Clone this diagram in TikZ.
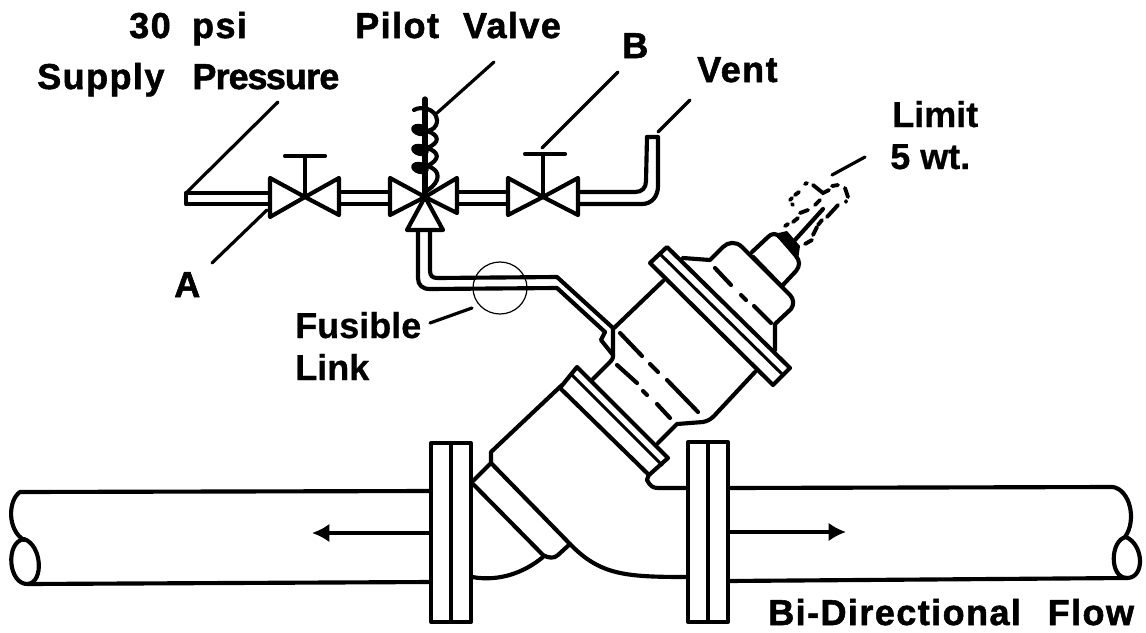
\documentclass[tikz,border=0pt]{standalone}
\usepackage{fontspec}
\setmainfont{Liberation Sans}
\newfontfamily\heavyface[LetterSpace=4,FakeBold=1.5]{Liberation Sans Bold}
\newfontfamily\midface[FakeBold=0.6]{Liberation Sans Bold}
\usetikzlibrary{arrows.meta}
\tikzset{
 ln/.style={line width=3.1pt,line join=round,line cap=round},
 thn/.style={line width=2.3pt,line join=round,line cap=round},
 valve/.style={line width=3.1pt,line join=round,fill=white},
 lead/.style={line width=2.4pt,line cap=round},
 dsh/.style={line width=2.9pt,line cap=round},
 lbl/.style={font=\heavyface\fontsize{27}{30}\selectfont,inner sep=0pt,anchor=base west},
 lbm/.style={font=\midface\fontsize{27}{30}\selectfont,inner sep=0pt,anchor=base west},
 flowtip/.style={-{Latex[length=13pt,width=14pt]}},
}
\begin{document}
\begin{tikzpicture}[x=0.75pt,y=-0.75pt]
\useasboundingbox (0,0) rectangle (1146,632);
% pipes
\draw[ln] (431,491) -- (20,492) .. controls (8,500) and (7,530) .. (24,540);
\draw[ln] (24,539) .. controls (5,542) and (8,585) .. (28,584) .. controls (44,582) and (42,545) .. (24,539);
\draw[ln] (28,584) -- (431,582);
\draw[ln] (728,488) -- (1113,487) .. controls (1130,490) and (1137,520) .. (1125,537);
\draw[ln] (1126,537) .. controls (1110,540) and (1109,578) .. (1127,578) .. controls (1145,578) and (1144,545) .. (1126,537);
\draw[ln] (728,581) -- (1127,578);
% flanges
\draw[ln] (431,443) rectangle (471,622) (451,443) -- (451,622);
\draw[ln] (688,442) rectangle (728,622) (708,442) -- (708,622);
% body
\draw[ln] (472,482) -- (491,463) -- (491,452) -- (562,385);
\draw[ln] (491,463) -- (570,544) .. controls (600,575) and (625,577) .. (687,577);
\draw[ln] (474,485) -- (543,555) (543,555) .. controls (548,558) and (554,559) .. (558,555) -- (570,544);
\draw[ln] (472,577) .. controls (500,582) and (525,572) .. (543,557);
\draw[ln] (649,474) -- (647,480) .. controls (650,486) and (653,488) .. (658,488) -- (688,488);
% lower flange
\draw[ln] (577,367) -- (668,458) -- (649,475) -- (560,388) -- cycle;
\draw[thn] (571,374) -- (662,465);
% lower actuator body
\draw[ln] (593,379) -- (610,362) .. controls (613,359) and (613,358) .. (613,354) -- (613,329) -- (663,281);
\draw[ln] (658,443) -- (677,424) -- (703,422) .. controls (708,421) and (711,419) .. (714,416) -- (755,372);
\draw[ln] (605,332) -- (601,340) -- (613,355);
% dash-dots
\draw[ln] (620,333) -- (642,356) (650,364) -- (658,372) (667,380) -- (698,412);
\draw[ln] (617,365) -- (637,383) (643,391) -- (647,395) (657,404) -- (670,418);
\draw[ln] (715,268) -- (731,285) (741,295) -- (746,300) (754,306) -- (771,323);
% upper flange
\draw[ln] (667,247) -- (790,368) -- (773,385) -- (650,263) -- cycle;
\draw[thn] (660,254) -- (783,375);
% top cap
\draw[ln] (683,258) -- (710,260) -- (723,247) .. controls (728,242) and (736,241) .. (742,247) -- (790,295) .. controls (794,299) and (794,305) .. (791,309) -- (775,324) -- (775,350);
\draw[ln] (752,252) -- (768,237) .. controls (772,233) and (776,233) .. (780,237) -- (796,256) .. controls (800,261) and (800,266) .. (796,271) -- (782,286);
\draw[thn] (753,256) -- (783,287);
\fill (774,234) -- (787,231) -- (800,246) -- (798,260) -- cycle;
\draw[ln] (795,240) -- (823,209);
% dashed limit weight
\draw[dsh] (805,184) -- (807,183) (813,185) -- (823,193) -- (829,190) (799,192) -- (795,195) (790,200) -- (792,198) (792,204) -- (793,205) (800,213) -- (808,210) (820,200) -- (815,205);
\draw[dsh] (832,186) -- (838,185) (845,188) -- (848,197) (846,201) -- (846,202) (838,205) -- (827,217) (822,220) -- (818,225) (817,227) -- (813,235) (812,240) -- (805,244) (798,218) -- (793,222) (788,224) -- (785,226);
% pilot piping
\draw[ln] (186,193) -- (268,193) (186,204) -- (268,204) (186,193) -- (186,204);
\draw[ln] (339,192) -- (390,192) (339,204) -- (390,204);
\draw[ln] (457,192) -- (508,192) (457,204) -- (508,204);
\draw[ln] (578,192) -- (635,192) .. controls (642,192) and (646,188) .. (646,181) -- (647,137);
\draw[ln] (578,204) -- (642,204) .. controls (652,204) and (658,196) .. (658,186) -- (658,137) -- (647,137);
\draw[ln] (418,230) -- (418,278) .. controls (418,285) and (422,289) .. (430,289) -- (557,288) -- (605,332);
\draw[ln] (430,230) -- (430,270) .. controls (430,276) and (432,278) .. (438,278) -- (557,277) -- (613,328);
% stem and spring
\draw[line width=4pt,line cap=round] (425,99) -- (425,197);
\draw[ln] (414,110) .. controls (420,106) and (436,108) .. (437,120) .. controls (437,128) and (432,130) .. (427,131);
\fill[rotate around={-15:(420,130)}] (420,130) ellipse [x radius=9,y radius=6];
\fill[rotate around={-15:(420,150)}] (420,150) ellipse [x radius=9,y radius=6];
\fill[rotate around={-15:(420,168)}] (420,168) ellipse [x radius=9,y radius=6];
\draw[ln] (427,131) .. controls (440,135) and (440,143) .. (427,148) .. controls (440,152) and (440,160) .. (427,166) .. controls (442,170) and (440,182) .. (428,190);
% valves
\draw[valve] (270,178) -- (305,197) -- (270,217) -- cycle;
\draw[valve] (339,178) -- (305,197) -- (339,215) -- cycle;
\draw[ln] (305,197) -- (305,156) (285,156) -- (325,156);
\draw[valve] (390,178) -- (425,197) -- (390,215) -- cycle;
\draw[valve] (457,178) -- (425,197) -- (457,213) -- cycle;
\draw[valve] (425,197) -- (407,230) -- (443,230) -- cycle;
\draw[valve] (508,178) -- (543,197) -- (508,215) -- cycle;
\draw[valve] (578,178) -- (543,197) -- (578,215) -- cycle;
\draw[ln] (543,197) -- (543,154) (525,154) -- (565,154);
% fusible ring
\draw[line width=0.9pt] (500,288) ellipse [x radius=27,y radius=26];
% arrows
\draw[line width=2.8pt,flowtip] (431,533) -- (312,533);
\draw[line width=2.8pt,flowtip] (728,532) -- (846,532);
% labels
\node[lbl] (tpsi) at (129,38) {30\hspace{16pt}psi};
\node[lbl] (tsup) at (37,89) {Supply\hspace{21pt}P\kern-.7pt r\kern-.7pt e\kern-.9pt s\kern-1.2pt s\kern-.7pt u\kern-.7pt r\kern-.5pt e};
\node[lbl] (tpil) at (355,38) {Pilot\hspace{18pt}Valve};
\node[lbl] (tb) at (622,58) {B};
\node[lbl] (tvent) at (697,82) {Vent};
\node[lbl] (ta) at (174,297) {A};
\node[lbm] (tlim) at (892,127) {Limit};
\node[lbm] (twt) at (890,169) {5 wt.};
\node[lbm] (tfus) at (295,338) {Fusible};
\node[lbm] (tlink) at (295,380) {Link};
\node[lbl] (tbi) at (768,625) {Bi-Directional\hspace{20pt}Flow};
% leaders
\coordinate (l1a) at (186,193); \coordinate (l1b) at (278,102);
\coordinate (l2a) at (267,210); \coordinate (l2b) at (212,263);
\coordinate (l3a) at (437,113); \coordinate (l3b) at (494,62);
\coordinate (l4a) at (542,148); \coordinate (l4b) at (618,72);
\coordinate (l5a) at (658,132); \coordinate (l5b) at (690,100);
\coordinate (l6a) at (832,175); \coordinate (l6b) at (865,157);
\coordinate (l7a) at (430,323); \coordinate (l7b) at (472,308);
\foreach \p/\q in {l1a/l1b,l2a/l2b,l3a/l3b,l4a/l4b,l5a/l5b,l6a/l6b,l7a/l7b} \draw[lead] (\p) -- (\q);
\end{tikzpicture}
\end{document}
